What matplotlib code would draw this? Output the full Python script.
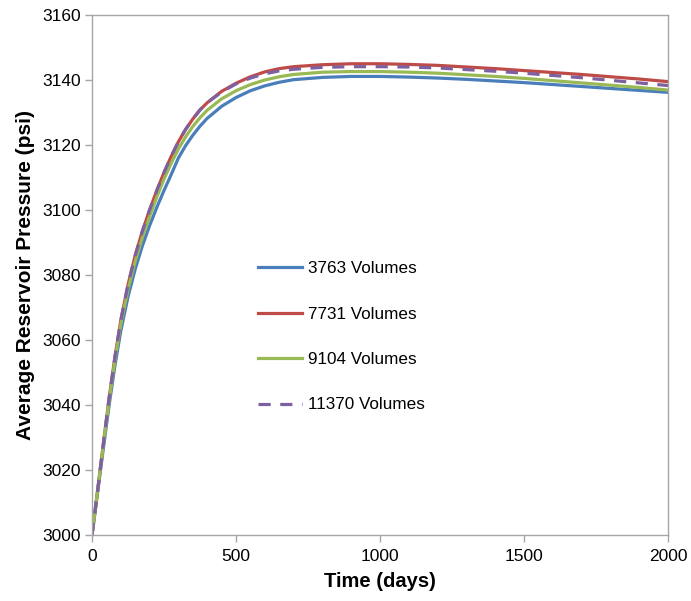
import matplotlib
matplotlib.use("Agg")
import matplotlib.pyplot as plt

# time axis (days)
days = [0, 20, 40, 60, 80, 100, 125, 150, 175, 200, 225, 250, 275, 300, 325, 350,
        375, 400, 450, 500, 550, 600, 650, 700, 800, 900, 1000, 1100, 1200, 1300,
        1400, 1500, 1600, 1700, 1800, 1900, 2000]

# average reservoir pressure (psi) for each grid size
p_3763 = [3000, 3013.5, 3027, 3040.3, 3052.3, 3062.8, 3073.3, 3081.8, 3089, 3095.2,
          3100.8, 3106, 3110.9, 3116, 3119.8, 3123, 3125.8, 3128.2, 3131.9, 3134.6,
          3136.7, 3138.2, 3139.3, 3140.1, 3140.8, 3141.1, 3141.1, 3140.9, 3140.6,
          3140.2, 3139.7, 3139.2, 3138.6, 3138, 3137.4, 3136.8, 3136.2]
p_7731 = [3000, 3014, 3028.5, 3042.5, 3055, 3066, 3077, 3086, 3093.5, 3100, 3106,
          3111.5, 3116.5, 3121, 3124.8, 3128, 3130.8, 3133, 3136.5, 3139, 3141,
          3142.5, 3143.5, 3144.1, 3144.7, 3145, 3145, 3144.8, 3144.5, 3144, 3143.5,
          3142.9, 3142.3, 3141.7, 3141, 3140.3, 3139.5]
p_9104 = [3000, 3014, 3028, 3041.8, 3054, 3064.8, 3075.5, 3084.2, 3091.6, 3098, 3104,
          3109.5, 3114.4, 3118.8, 3122.5, 3125.7, 3128.4, 3130.7, 3134.2, 3136.7,
          3138.6, 3140, 3141, 3141.7, 3142.4, 3142.6, 3142.6, 3142.4, 3142.1, 3141.6,
          3141.1, 3140.5, 3139.8, 3139.1, 3138.4, 3137.7, 3136.9]
p_11370 = [3000, 3014, 3028.5, 3042.5, 3055, 3066, 3077, 3086, 3093.5, 3100, 3106,
           3111.5, 3116.5, 3121, 3124.8, 3128, 3130.8, 3133, 3136.3, 3138.8, 3140.6,
           3141.9, 3142.8, 3143.3, 3143.9, 3144.1, 3144.1, 3144, 3143.7, 3143.2,
           3142.7, 3142.1, 3141.4, 3140.7, 3139.9, 3139.1, 3138.3]

labels = ["3763 Volumes", "7731 Volumes", "9104 Volumes", "11370 Volumes"]

plt.rcParams['font.family'] = ['Liberation Sans', 'DejaVu Sans']

fig = plt.figure(figsize=(6.91, 6.01), dpi=100)
ax = fig.add_axes([92/691, 1-535/601, 576/691, 520/601])

lw = 2.3
ax.plot(days, p_3763, color='#4A7EBB', lw=lw, label=labels[0])
ax.plot(days, p_7731, color='#BE4B48', lw=lw, label=labels[1])
ax.plot(days, p_9104, color='#98B954', lw=lw, label=labels[2])
ax.plot(days, p_11370, color='#7D60A0', lw=lw, dashes=(3.8, 3.0), label=labels[3])

ax.set_xlim(0, 2000)
ax.set_ylim(3000, 3160)
ax.set_xticks([0, 500, 1000, 1500, 2000])
ax.set_yticks(range(3000, 3161, 20))

for s in ax.spines.values():
    s.set_color('#A6A6A6')
    s.set_linewidth(1)
ax.tick_params(direction='out', length=5, width=1, color='#A6A6A6',
               labelsize=12.5, pad=3)
ax.tick_params(axis='x', pad=5)

ax.set_xlabel('Time (days)', fontsize=14.5, fontweight='bold', labelpad=6)
ax.set_ylabel('Average Reservoir Pressure (psi)', fontsize=15, fontweight='bold', labelpad=5)

ax.legend(loc='center left', bbox_to_anchor=(0.288, 0.381), frameon=False,
          fontsize=12.3, labelspacing=1.78, handlelength=2.57, handletextpad=0.35,
          borderpad=0, borderaxespad=0)

fig.savefig('out.png', dpi=100)
